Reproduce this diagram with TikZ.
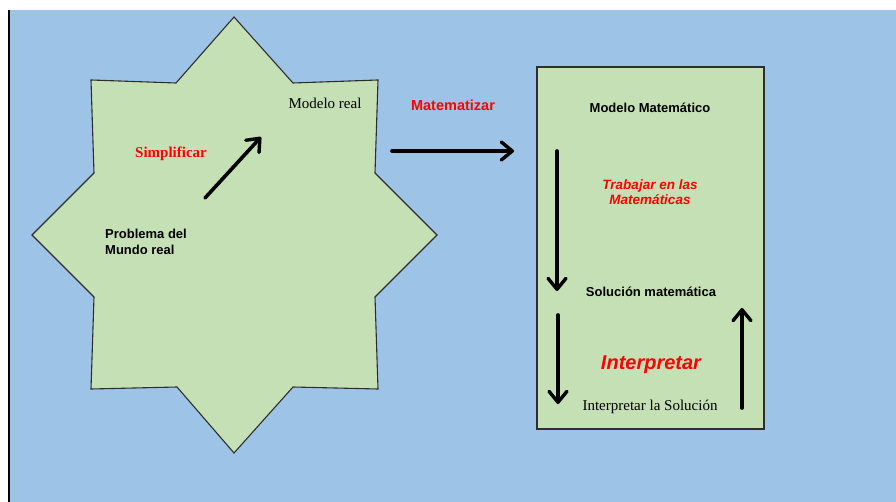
\documentclass[tikz,border=0pt]{standalone}
\usepackage{fontspec}
\setmainfont{Liberation Serif}
\newfontfamily\arial{Liberation Sans}
\usetikzlibrary{arrows.meta}
\definecolor{skyfill}{HTML}{9DC3E6}
\definecolor{leaf}{HTML}{C5E0B4}
\definecolor{labelred}{HTML}{FF0000}
\definecolor{edge}{HTML}{2E2E2E}

\begin{document}
\begin{tikzpicture}[x=1pt,y=-1pt,
  serifnote/.style={inner sep=0pt, font=\fontsize{15}{17}\selectfont},
  seriflabel/.style={inner sep=0pt, text=labelred, font=\fontsize{15}{17}\selectfont\bfseries},
  sansnote/.style={inner sep=0pt, font=\arial\fontsize{13}{15}\selectfont\bfseries},
  sanslabel/.style={inner sep=0pt, text=labelred, font=\arial\fontsize{14.5}{15}\selectfont\bfseries},
  flowarrow/.style={line width=3.6pt, line cap=round,
    -{Straight Barb[length=11pt, width=18pt, line width=3.4pt, round]}},
  panel/.style={fill=leaf, draw=edge, line width=1.1pt, line join=miter}
]
\useasboundingbox (0,0) rectangle (896,502);
% page background
\fill[white] (0,0) rectangle (896,502);
\fill[skyfill] (9,10) rectangle (896,502);
\draw[line width=1.4pt] (9,10) -- (9,502);

% eight-pointed star (real world)
\draw[panel] (91,80) -- (176,83) -- (234,17) -- (293,83) -- (378,80)
  -- (375,173) -- (437,235) -- (375,297) -- (378,389) -- (293,387)
  -- (234,453) -- (177,387) -- (91,389) -- (94,297) -- (32,235)
  -- (94,173) -- cycle;

% mathematical world
\draw[panel, line width=1.4pt] (537,67) rectangle (764,429);

% labels
\node[serifnote] (real) at (325,103) {Modelo real};
\node[seriflabel] (simp) at (171,154) {Simplificar};
\node[sansnote, anchor=west, align=left, font=\arial\fontsize{13}{15.5}\selectfont\bfseries] (problem) at (105,242) {Problema del\\Mundo real};
\node[sanslabel] (mathz) at (453,105) {Matematizar};
\node[sansnote] (mmodel) at (650,108) {Modelo Matemático};
\node[inner sep=0pt, align=center, text=labelred, font=\arial\fontsize{13.5}{15}\selectfont\bfseries\itshape] (work) at (650,192) {Trabajar en las\\Matemáticas};
\node[sansnote] (msol) at (651,292) {Solución matemática};
\node[inner sep=0pt, text=labelred, font=\arial\fontsize{20}{22}\selectfont\bfseries\itshape] (interp) at (651,365) {Interpretar};
\node[serifnote] (isol) at (650,407) {Interpretar la Solución};

% arrow end points
\coordinate (simpA) at (205,198);
\coordinate (simpB) at (261,137);
\coordinate (mathA) at (392,151);
\coordinate (mathB) at (514,151);
\coordinate (workA) at (557,151);
\coordinate (workB) at (557,291);
\coordinate (intA) at (558,315);
\coordinate (intB) at (558,404);
\coordinate (backA) at (742,408);
\coordinate (backB) at (742,308);

% arrows
\draw[flowarrow] (simpA) -- (simpB);
\draw[flowarrow] (mathA) -- (mathB);
\draw[flowarrow] (workA) -- (workB);
\draw[flowarrow] (intA) -- (intB);
\draw[flowarrow] (backA) -- (backB);
\end{tikzpicture}
\end{document}
